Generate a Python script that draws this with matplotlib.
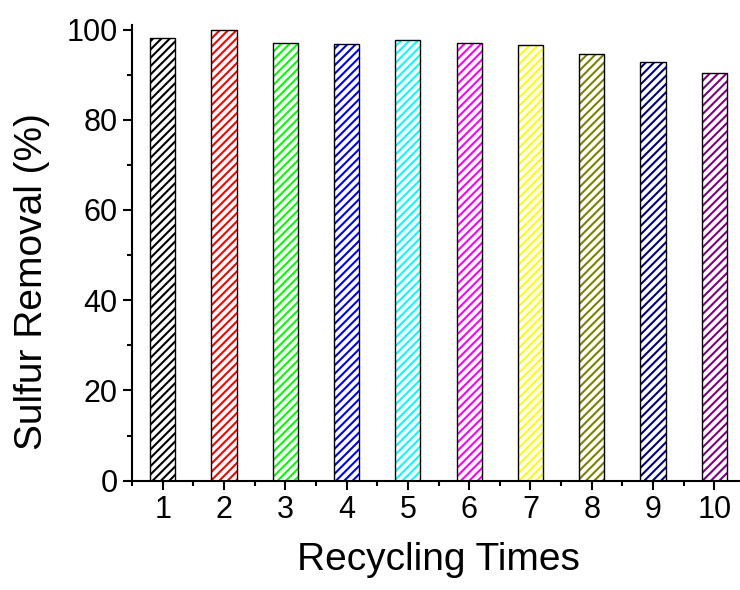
import matplotlib.pyplot as plt
from matplotlib.ticker import MultipleLocator

plt.rcParams['font.family'] = ['Liberation Sans', 'DejaVu Sans']
plt.rcParams['hatch.linewidth'] = 1.5

cycles = [1, 2, 3, 4, 5, 6, 7, 8, 9, 10]
removal = [98.1, 99.9, 97.1, 96.8, 97.6, 96.9, 96.6, 94.6, 92.8, 90.3]
colors = ['#000000', '#FF0000', '#00FF00', '#0000FF', '#00FFFF',
          '#FF00FF', '#FFFF00', '#808000', '#000080', '#800080']

fig = plt.figure(figsize=(7.4, 5.9), dpi=100)
ax = fig.add_axes([132/740, (590-480.7)/590, 613/740, 455.7/590])

# hatched fill in the bar colour, then a black outline on top
ax.bar(cycles, removal, width=0.41, color='white', edgecolor=colors,
       hatch='////', linewidth=0, zorder=2)
ax.bar(cycles, removal, width=0.41, fill=False, edgecolor='black',
       linewidth=1.0, zorder=3)

ax.set_xlim(0.5, 10.5)
ax.set_ylim(0, 101)
ax.set_xticks(cycles)
ax.xaxis.set_minor_locator(MultipleLocator(0.5))
ax.yaxis.set_major_locator(MultipleLocator(20))
ax.yaxis.set_minor_locator(MultipleLocator(10))

for s in ['top', 'right']:
    ax.spines[s].set_visible(False)
for s in ['left', 'bottom']:
    ax.spines[s].set_linewidth(1.5)

ax.tick_params(which='major', direction='out', length=6.5, width=1.5,
               labelsize=22, pad=4)
ax.tick_params(which='minor', direction='out', length=3.5, width=1.5)

ax.set_xlabel('Recycling Times', fontsize=28, labelpad=12)
ax.set_ylabel('Sulfur Removal (%)', fontsize=28)
ax.yaxis.set_label_coords(-0.133, 0.438)

fig.savefig('out.png', dpi=100)
